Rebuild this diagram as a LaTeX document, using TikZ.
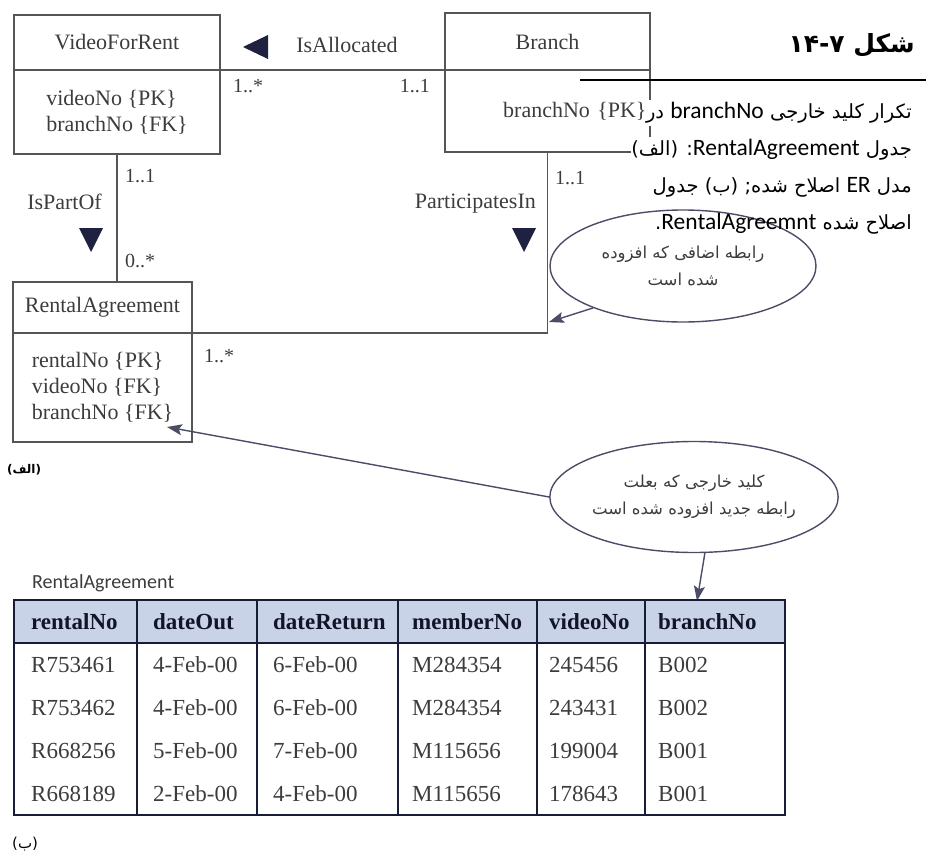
\documentclass[tikz,border=0pt]{standalone}
\usepackage{fontspec}
\setmainfont{Liberation Serif}
\newfontfamily\capfont{Carlito}
\newfontfamily\farsifont[Script=Arabic]{DejaVu Sans}
\TeXXeTstate=1
\usetikzlibrary{arrows.meta, positioning, shapes.geometric}
\definecolor{boxline}{HTML}{555555}
\definecolor{navy}{HTML}{1E2140}
\definecolor{hdrblue}{HTML}{C9D3E7}
\definecolor{txtgray}{HTML}{3C3C3C}
\newcommand{\capword}[1]{\beginL{\capfont\fontsize{23.5}{26}\selectfont #1}\endL}
\tikzset{
  umlhead/.style={draw=boxline, line width=1.3pt, inner sep=0pt, outer sep=0pt,
                  font=\fontsize{22}{26}\selectfont, text=txtgray},
  umlbody/.style={umlhead, align=left},
  mult/.style={inner sep=0pt, font=\fontsize{20}{24}\selectfont, text=txtgray},
  rolename/.style={inner sep=0pt, font=\fontsize{22}{26}\selectfont, text=txtgray},
  link/.style={draw=boxline, line width=1.3pt},
  dirmark/.style={fill=navy},
  note/.style={draw=navy!80, ellipse, line width=1.4pt, inner sep=0pt, align=center,
               font=\farsifont\fontsize{16.5}{27}\selectfont, text=txtgray},
  notearrow/.style={draw=navy!80, line width=1.4pt, -{Stealth[length=15pt, width=11pt, inset=3pt]}},
  tableline/.style={draw=navy!85!black, line width=1.3pt},
  cell/.style={anchor=west, inner sep=0pt, font=\fontsize{23}{27}\selectfont, text=txtgray},
  headcell/.style={cell, font=\bfseries\fontsize{23}{27}\selectfont, text=navy!60!black},
  capline/.style={anchor=east, inner sep=0pt, font=\farsifont\fontsize{19.5}{22}\selectfont}
}

\begin{document}
\begin{tikzpicture}[x=1pt, y=-1pt]
\useasboundingbox (0,0) rectangle (926,856);

% Classes
\node[umlhead, minimum width=206pt, minimum height=55pt] (vfr) at (117,42.5) {VideoForRent};
\node[umlbody, minimum width=206pt, minimum height=84pt, below=0pt of vfr] (vfrattr) {videoNo \{PK\}\\ branchNo \{FK\}};

\node[umlhead, minimum width=205pt, minimum height=57pt] (branch) at (547.5,41.5) {Branch};
\node[umlbody, align=right, text width=198pt, minimum width=205pt, minimum height=82pt, below=0pt of branch] (branchattr) {branchNo \{PK\}};

\node[umlhead, minimum width=179pt, minimum height=51pt] (rental) at (102.5,307.5) {RentalAgreement};
\node[umlbody, minimum width=179pt, minimum height=109pt, below=0pt of rental] (rentalattr) {rentalNo \{PK\}\\ videoNo \{FK\}\\ branchNo \{FK\}};

% Associations
\draw[link] (vfr.south east) -- (branch.south west);
\draw[link] (vfrattr.south) -- (vfrattr.south |- rental.north);
\draw[link] (branchattr.south) |- (rental.south east);

\node[rolename] (isalloc) at (347,45) {IsAllocated};
\node[rolename, anchor=east] (ispart) at (102,202) {IsPartOf};
\node[rolename, anchor=east] (partin) at (536,204) {ParticipatesIn};

\fill[dirmark] (243,47) -- (268,35) -- (268,59) -- cycle;
\fill[dirmark] (79,228) -- (103,228) -- (91,252) -- cycle;
\fill[dirmark] (512,228) -- (536,228) -- (524,252) -- cycle;

\node[mult, anchor=west] (m1) at (233,86) {1..*};
\node[mult, anchor=east] (m2) at (430,86) {1..1};
\node[mult, anchor=west] (m3) at (125,176) {1..1};
\node[mult, anchor=west] (m4) at (125,261) {0..*};
\node[mult, anchor=west] (m5) at (555,178) {1..1};
\node[mult, anchor=west] (m6) at (204,356) {1..*};

\node[inner sep=0pt, anchor=west, font=\farsifont\bfseries\fontsize{12}{14}\selectfont] (parta) at (7,470) {\beginR(الف)\endR};

% Notes
\node[note, minimum width=266pt, minimum height=112pt] (relnote) at (683,266)
  {\beginR رابطه اضافی که افزوده\endR\\\beginR شده است\endR};
\coordinate (reltip) at (549,322);
\draw[notearrow] (relnote.205) -- (reltip);

\node[note, minimum width=278pt, minimum height=111pt] (fknote) at (694,497)
  {\beginR کلید خارجی که بعلت\endR\\\beginR رابطه جدید افزوده شده است\endR};
\coordinate (fktip) at (167,427);
\coordinate (bntip) at (697,601);
\draw[notearrow] (fknote.180) -- (fktip);
\draw[notearrow] (fknote.281) -- (bntip);

% Caption
\node[anchor=east, inner sep=0pt, font=\farsifont\bfseries\fontsize{25}{28}\selectfont] (figtitle) at (915,45)
  {\beginR شکل \beginL۱۴-۷\endL\endR};
\coordinate (ruleL) at (580,80);
\coordinate (ruleR) at (926,80);
\draw[line width=1.6pt] (ruleL) -- (ruleR);
\node[capline, fill=white, inner ysep=2pt] (cap1) at (912,113) {\beginR تکرار کلید خارجی \capword{branchNo} در\endR};
\node[capline, fill=white, inner ysep=2pt] (cap2) at (912,150) {\beginR جدول \capword{RentalAgreement}: (الف)\endR};
\node[capline] (cap3) at (912,187) {\beginR مدل \capword{ER} اصلاح شده; (ب) جدول\endR};
\node[capline] (cap4) at (912,224) {\beginR اصلاح شده \capword{RentalAgreemnt}.\endR};

% Table
\node[anchor=west, inner sep=0pt, font=\capfont\fontsize{20}{24}\selectfont, text=txtgray] (tabname) at (32,583) {RentalAgreement};
\fill[hdrblue] (14,600) rectangle (785,643);
\draw[tableline] (14,600) rectangle (785,815);
\draw[tableline] (14,643) -- (785,643);
\foreach \x in {137,257,398,537,645}
  \draw[tableline] (\x,600) -- (\x,815);

\foreach \txt/\x [count=\i] in {rentalNo/31, dateOut/153, dateReturn/273, memberNo/412, videoNo/549, branchNo/658}
  \node[headcell] (hd\i) at (\x,622) {\txt};

\foreach \a/\b/\c/\d/\e/\f [count=\r] in {
    R753461/4-Feb-00/6-Feb-00/M284354/245456/B002,
    R753462/4-Feb-00/6-Feb-00/M284354/243431/B002,
    R668256/5-Feb-00/7-Feb-00/M115656/199004/B001,
    R668189/2-Feb-00/4-Feb-00/M115656/178643/B001}{
  \node[cell] (r\r-1) at (31,{621.5+43*\r}) {\a};
  \node[cell] (r\r-2) at (153,{621.5+43*\r}) {\b};
  \node[cell] (r\r-3) at (273,{621.5+43*\r}) {\c};
  \node[cell] (r\r-4) at (412,{621.5+43*\r}) {\d};
  \node[cell] (r\r-5) at (549,{621.5+43*\r}) {\e};
  \node[cell] (r\r-6) at (658,{621.5+43*\r}) {\f};
}

\node[inner sep=0pt, anchor=west, font=\farsifont\fontsize{15}{17}\selectfont] (partb) at (12,844) {\beginR(ب)\endR};

\end{tikzpicture}
\end{document}
